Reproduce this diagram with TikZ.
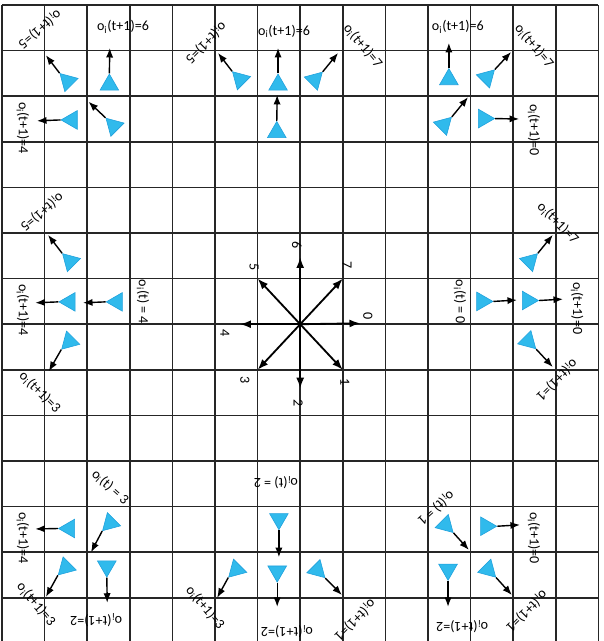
\documentclass[tikz,border=0pt]{standalone}
\usepackage{fontspec}
\setmainfont{Carlito}
\usetikzlibrary{arrows.meta,shapes.geometric}
\definecolor{agentfill}{RGB}{48,186,236}
\definecolor{agentline}{RGB}{30,160,220}

\begin{document}
\begin{tikzpicture}[
  x=1.065cm, y=-1.14cm,
  gridline/.style={line width=1.1pt, black!85},
  agent/.style={regular polygon, regular polygon sides=3, minimum size=0.54cm, inner sep=0pt, fill=agentfill, draw=agentline, line width=0.4pt},
  motion/.style={-{Latex[length=2.4mm,width=1.8mm]}, line width=1pt},
  compass/.style={-{Latex[length=2.7mm,width=2mm]}, line width=1.3pt},
  lab/.style={font=\fontsize{10}{12}\selectfont, inner sep=0pt}
]
  \useasboundingbox (-0.047,-0.110) rectangle (14.108,13.947);

  % grid
  \foreach \i in {0,...,14} \draw[gridline] (\i,0) -- (\i,13.95);
  \foreach \j in {0,...,13} \draw[gridline] (0,\j) -- (14,\j);

  % centre: the eight orientations
  \coordinate (c) at (7,7);
  \coordinate (d0) at (8.41,6.98);
  \coordinate (d1) at (8,8);
  \coordinate (d2) at (7,8.41);
  \coordinate (d3) at (6,8);
  \coordinate (d4) at (5.59,7);
  \coordinate (d5) at (6,6);
  \coordinate (d6) at (7,5.53);
  \coordinate (d7) at (8,6);
  \foreach \k in {0,...,7} \draw[compass] (c) -- (d\k);
  \node[lab, rotate=-90] (n0) at (8.59,6.82) {0};
  \node[lab, rotate=-90] (n1) at (8.05,8.27) {1};
  \node[lab, rotate=-90] (n2) at (6.95,8.73) {2};
  \node[lab, rotate=-90] (n3) at (5.70,8.22) {3};
  \node[lab, rotate=-90] (n4) at (5.23,7.19) {4};
  \node[lab, rotate=-90] (n5) at (5.92,5.75) {5};
  \node[lab, rotate=-90] (n6) at (6.92,5.26) {6};
  \node[lab, rotate=-90] (n7) at (8.10,5.70) {7};

  % top left
  \node[lab, rotate=-140] (tl5) at (0.89,0.53) {o\textsubscript{i}(t+1)=5};
  \node[lab] (tl6) at (2.84,0.48) {o\textsubscript{i}(t+1)=6};
  \node[lab, rotate=-90] (tl4) at (0.49,2.70) {o\textsubscript{i}(t+1)=4};
  \node[agent, rotate=45] (tla) at (1.54,1.67) {};
  \node[agent] (tlb) at (2.52,1.75) {};
  \node[agent, rotate=90] (tlc) at (1.64,2.52) {};
  \node[agent, rotate=45] (tld) at (2.62,2.65) {};
  \coordinate (tlae) at (1.03,1.10);
  \coordinate (tlbe) at (2.53,0.94);
  \coordinate (tlce) at (0.82,2.54);
  \coordinate (tlde) at (2.03,2.12);
  \draw[motion] (tla.corner 1) -- (tlae);
  \draw[motion] (tlb.corner 1) -- (tlbe);
  \draw[motion] (tlc.corner 1) -- (tlce);
  \draw[motion] (tld.corner 1) -- (tlde);

  % top middle
  \node[lab, rotate=-135] (tm5) at (4.79,0.83) {o\textsubscript{i}(t+1)=5};
  \node[lab] (tm6) at (6.62,0.57) {o\textsubscript{i}(t+1)=6};
  \node[lab, rotate=-50] (tm7) at (8.47,0.90) {o\textsubscript{i}(t+1)=7};
  \node[agent, rotate=45] (tma) at (5.59,1.63) {};
  \node[agent] (tmb) at (6.48,1.75) {};
  \node[agent, rotate=-45] (tmc) at (7.34,1.64) {};
  \node[agent] (tmd) at (6.45,2.79) {};
  \coordinate (tmae) at (5.07,1.05);
  \coordinate (tmbe) at (6.48,0.94);
  \coordinate (tmce) at (7.89,1.05);
  \coordinate (tmde) at (6.46,1.97);
  \draw[motion] (tma.corner 1) -- (tmae);
  \draw[motion] (tmb.corner 1) -- (tmbe);
  \draw[motion] (tmc.corner 1) -- (tmce);
  \draw[motion] (tmd.corner 1) -- (tmde);

  % top right
  \node[lab] (tr6) at (10.70,0.48) {o\textsubscript{i}(t+1)=6};
  \node[lab, rotate=-50] (tr7) at (12.49,0.90) {o\textsubscript{i}(t+1)=7};
  \node[lab, rotate=-90] (tr0) at (12.49,2.74) {o\textsubscript{i}(t+1)=0};
  \node[agent] (tra) at (10.49,1.63) {};
  \node[agent, rotate=-45] (trb) at (11.38,1.59) {};
  \node[agent, rotate=-45] (trc) at (10.37,2.63) {};
  \node[agent, rotate=-90] (trd) at (11.31,2.49) {};
  \coordinate (trae) at (10.49,0.83);
  \coordinate (trbe) at (11.95,1.03);
  \coordinate (trce) at (10.94,2.02);
  \coordinate (trde) at (12.14,2.50);
  \draw[motion] (tra.corner 1) -- (trae);
  \draw[motion] (trb.corner 1) -- (trbe);
  \draw[motion] (trc.corner 1) -- (trce);
  \draw[motion] (trd.corner 1) -- (trde);

  % middle left
  \node[lab, rotate=-140] (ml5) at (0.94,4.54) {o\textsubscript{i}(t+1)=5};
  \node[lab, rotate=-90] (mlt) at (3.31,6.51) {o\textsubscript{i}(t) = 4};
  \node[lab, rotate=-90] (ml4) at (0.49,6.69) {o\textsubscript{i}(t+1)=4};
  \node[lab, rotate=-45] (ml3) at (0.89,8.49) {o\textsubscript{i}(t+1)=3};
  \node[agent, rotate=45] (mla) at (1.60,5.62) {};
  \node[agent, rotate=90] (mlb) at (1.59,6.51) {};
  \node[agent, rotate=90] (mlc) at (2.70,6.51) {};
  \node[agent, rotate=135] (mld) at (1.58,7.38) {};
  \coordinate (mlae) at (1.08,5.04);
  \coordinate (mlbe) at (0.78,6.53);
  \coordinate (mlce) at (1.90,6.53);
  \coordinate (mlde) at (1.10,8.03);
  \draw[motion] (mla.corner 1) -- (mlae);
  \draw[motion] (mlb.corner 1) -- (mlbe);
  \draw[motion] (mlc.corner 1) -- (mlce);
  \draw[motion] (mld.corner 1) -- (mlde);

  % middle right
  \node[lab, rotate=-45] (mr7) at (13.05,4.78) {o\textsubscript{i}(t+1)=7};
  \node[lab, rotate=-90] (mrt) at (10.75,6.51) {o\textsubscript{i}(t) = 0};
  \node[lab, rotate=-90] (mr0) at (13.50,6.65) {o\textsubscript{i}(t+1)=0};
  \node[lab, rotate=-135] (mr1) at (13.03,8.22) {o\textsubscript{i}(t+1)=1};
  \node[agent, rotate=-45] (mra) at (12.39,5.62) {};
  \node[agent, rotate=-90] (mrb) at (11.27,6.50) {};
  \node[agent, rotate=-90] (mrc) at (12.34,6.48) {};
  \node[agent, rotate=-135] (mrd) at (12.35,7.37) {};
  \coordinate (mrae) at (12.93,5.04);
  \coordinate (mrbe) at (12.09,6.47);
  \coordinate (mrce) at (13.17,6.45);
  \coordinate (mrde) at (12.93,7.94);
  \draw[motion] (mra.corner 1) -- (mrae);
  \draw[motion] (mrb.corner 1) -- (mrbe);
  \draw[motion] (mrc.corner 1) -- (mrce);
  \draw[motion] (mrd.corner 1) -- (mrde);

  % bottom left
  \node[lab, rotate=-42] (blt) at (2.54,10.57) {o\textsubscript{i}(t) = 3};
  \node[lab, rotate=-90] (bl4) at (0.49,11.69) {o\textsubscript{i}(t+1)=4};
  \node[lab, rotate=-50] (bl3) at (0.80,13.14) {o\textsubscript{i}(t+1)=3};
  \node[lab, rotate=180] (bl2) at (2.21,13.49) {o\textsubscript{i}(t+1)=2};
  \node[agent, rotate=135] (bla) at (2.54,11.36) {};
  \node[agent, rotate=90] (blb) at (1.58,11.48) {};
  \node[agent, rotate=135] (blc) at (1.50,12.33) {};
  \node[agent, rotate=180] (bld) at (2.46,12.31) {};
  \coordinate (blae) at (2.09,12.00);
  \coordinate (blbe) at (0.78,11.49);
  \coordinate (blce) at (1.03,12.98);
  \coordinate (blde) at (2.47,13.11);
  \draw[motion] (bla.corner 1) -- (blae);
  \draw[motion] (blb.corner 1) -- (blbe);
  \draw[motion] (blc.corner 1) -- (blce);
  \draw[motion] (bld.corner 1) -- (blde);

  % bottom middle
  \node[lab, rotate=180] (bmt) at (6.43,10.48) {o\textsubscript{i}(t) = 2};
  \node[lab, rotate=-50] (bm3) at (4.77,13.22) {o\textsubscript{i}(t+1)=3};
  \node[lab, rotate=180] (bm2) at (6.69,13.75) {o\textsubscript{i}(t+1)=2};
  \node[lab, rotate=-135] (bm1) at (8.29,13.49) {o\textsubscript{i}(t+1)=1};
  \node[agent, rotate=180] (bma) at (6.50,11.27) {};
  \node[agent, rotate=135] (bmb) at (5.50,12.38) {};
  \node[agent, rotate=180] (bmc) at (6.46,12.42) {};
  \node[agent, rotate=-135] (bmd) at (7.40,12.39) {};
  \coordinate (bmae) at (6.50,12.11);
  \coordinate (bmbe) at (5.05,13.00);
  \coordinate (bmce) at (6.46,13.20);
  \coordinate (bmde) at (7.98,12.94);
  \draw[motion] (bma.corner 1) -- (bmae);
  \draw[motion] (bmb.corner 1) -- (bmbe);
  \draw[motion] (bmc.corner 1) -- (bmce);
  \draw[motion] (bmd.corner 1) -- (bmde);

  % bottom right
  \node[lab, rotate=-138] (brt) at (10.19,11.03) {o\textsubscript{i}(t) = 1};
  \node[lab, rotate=-90] (br0) at (12.49,11.69) {o\textsubscript{i}(t+1)=0};
  \node[lab, rotate=180] (br2) at (10.80,13.64) {o\textsubscript{i}(t+1)=2};
  \node[lab, rotate=-135] (br1) at (12.32,13.29) {o\textsubscript{i}(t+1)=1};
  \node[agent, rotate=-135] (bra) at (10.41,11.40) {};
  \node[agent, rotate=-90] (brb) at (11.36,11.43) {};
  \node[agent, rotate=180] (brc) at (10.47,12.38) {};
  \node[agent, rotate=-135] (brd) at (11.41,12.38) {};
  \coordinate (brae) at (10.96,11.95);
  \coordinate (brbe) at (12.16,11.40);
  \coordinate (brce) at (10.47,13.20);
  \coordinate (brde) at (11.97,12.94);
  \draw[motion] (bra.corner 1) -- (brae);
  \draw[motion] (brb.corner 1) -- (brbe);
  \draw[motion] (brc.corner 1) -- (brce);
  \draw[motion] (brd.corner 1) -- (brde);
\end{tikzpicture}
\end{document}
